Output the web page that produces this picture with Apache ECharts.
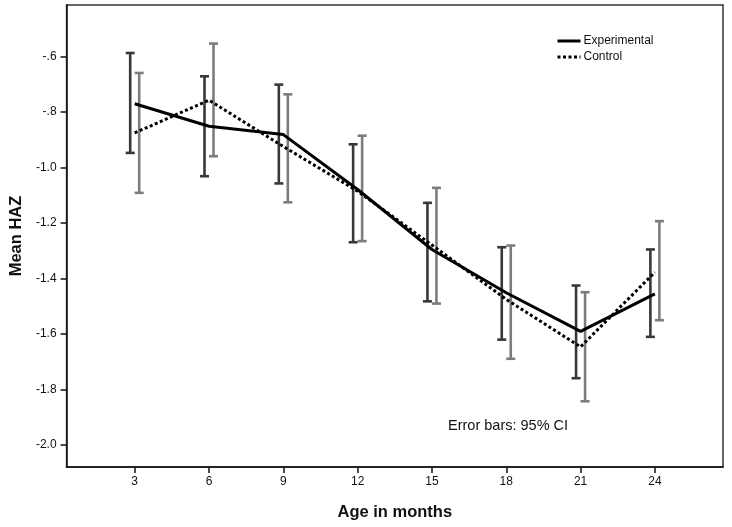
<!DOCTYPE html>
<html>
<head>
<meta charset="utf-8">
<script src="https://cdn.jsdelivr.net/npm/echarts@6/dist/echarts.min.js"></script>
<style>
html,body{margin:0;padding:0;background:#fff;}
#chart{width:732px;height:527px;}
</style>
</head>
<body>
<div id="chart"></div>
<script>
// ---- data ----
var ages = [3, 6, 9, 12, 15, 18, 21, 24];
var expMean = [-0.771, -0.852, -0.882, -1.080, -1.296, -1.452, -1.591, -1.456];
var expLow  = [-0.948, -1.032, -1.058, -1.270, -1.483, -1.621, -1.760, -1.611];
var expHigh = [-0.588, -0.672, -0.702, -0.917, -1.128, -1.288, -1.426, -1.296];
var ctlMean = [-0.876, -0.758, -0.925, -1.086, -1.280, -1.476, -1.647, -1.378];
var ctlLow  = [-1.092, -0.960, -1.126, -1.266, -1.491, -1.690, -1.843, -1.551];
var ctlHigh = [-0.660, -0.554, -0.737, -0.886, -1.074, -1.282, -1.450, -1.194];
var yTicks = [-2.0, -1.8, -1.6, -1.4, -1.2, -1.0, -0.8, -0.6];
var seriesNames = ['Experimental', 'Control'];

function zip(xs, ys) { return xs.map(function (x, i) { return [x, ys[i]]; }); }
function zip3(xs, lo, hi) { return xs.map(function (x, i) { return [x, lo[i], hi[i]]; }); }

function errorBar(color, dx) {
  return function (params, api) {
    var lo = api.coord([api.value(0), api.value(1)]);
    var hi = api.coord([api.value(0), api.value(2)]);
    var x = lo[0] + dx;
    var cap = 4.5;
    var st = { stroke: color, lineWidth: 2.6 };
    return {
      type: 'group',
      children: [
        { type: 'line', shape: { x1: x, y1: lo[1], x2: x, y2: hi[1] }, style: st },
        { type: 'line', shape: { x1: x - cap, y1: lo[1], x2: x + cap, y2: lo[1] }, style: st },
        { type: 'line', shape: { x1: x - cap, y1: hi[1], x2: x + cap, y2: hi[1] }, style: st }
      ]
    };
  };
}

function fmtY(v) {
  var s = Math.abs(v).toFixed(1);
  if (s.charAt(0) === '0') s = s.substring(1);
  return (v < 0 ? '-' : '') + s;
}

var chart = echarts.init(document.getElementById('chart'), null, { renderer: 'canvas' });
var font = 'Liberation Sans, Arial, sans-serif';
chart.setOption({
  animation: false,
  backgroundColor: '#fff',
  textStyle: { fontFamily: font },
  grid: { left: 64, right: 9, top: 5, bottom: 60, show: true, borderColor: '#333', borderWidth: 1.5, backgroundColor: '#fff' },
  legend: {
    data: seriesNames,
    orient: 'vertical',
    left: 556, top: 35, padding: 0,
    itemWidth: 23, itemHeight: 14, itemGap: 4,
    itemStyle: { opacity: 0 },
    lineStyle: { width: 3 },
    textStyle: { fontSize: 12, color: '#111', fontFamily: font, padding: [0, 0, 0, -2] }
  },
  xAxis: {
    type: 'value', min: 0.25, max: 26.75,
    name: 'Age in months', nameLocation: 'middle', nameGap: 37,
    nameTextStyle: { fontSize: 16.5, fontWeight: 'bold', color: '#111', fontFamily: font },
    axisLine: { show: true, onZero: false, lineStyle: { color: '#111', width: 1.5 } },
    axisTick: { show: true, length: 6, customValues: ages, lineStyle: { color: '#111', width: 1.5 } },
    axisLabel: { customValues: ages, margin: 9, fontSize: 12, color: '#111', fontFamily: font },
    splitLine: { show: false }
  },
  yAxis: {
    type: 'value', min: -2.08, max: -0.415,
    name: 'Mean HAZ', nameLocation: 'middle', nameGap: 40,
    nameTextStyle: { fontSize: 16.5, fontWeight: 'bold', color: '#111', fontFamily: font },
    axisLine: { show: true, onZero: false, lineStyle: { color: '#111', width: 1.5 } },
    axisTick: { show: true, length: 6, customValues: yTicks, lineStyle: { color: '#111', width: 1.5 } },
    axisLabel: { customValues: yTicks, margin: 10, fontSize: 12, color: '#111', fontFamily: font, formatter: fmtY },
    splitLine: { show: false }
  },
  series: [
    {
      type: 'custom', name: 'expCI', renderItem: errorBar('#383838', -4.5),
      data: zip3(ages, expLow, expHigh), encode: { x: 0, y: [1, 2] }, z: 2, silent: true
    },
    {
      type: 'custom', name: 'ctlCI', renderItem: errorBar('#7c7c7c', 4.5),
      data: zip3(ages, ctlLow, ctlHigh), encode: { x: 0, y: [1, 2] }, z: 2, silent: true
    },
    {
      type: 'line', name: seriesNames[0], data: zip(ages, expMean),
      symbol: 'none', z: 5,
      lineStyle: { color: '#000', width: 3, type: 'solid' },
      itemStyle: { color: '#000' }
    },
    {
      type: 'line', name: seriesNames[1], data: zip(ages, ctlMean),
      symbol: 'none', z: 5,
      lineStyle: { color: '#000', width: 3, type: [3, 2.5] },
      itemStyle: { color: '#000' }
    }
  ],
  graphic: [
    { type: 'text', left: 448, top: 418, style: { text: 'Error bars: 95% CI', fontSize: 14.5, fill: '#111', fontFamily: font } }
  ]
});
</script>
</body>
</html>
